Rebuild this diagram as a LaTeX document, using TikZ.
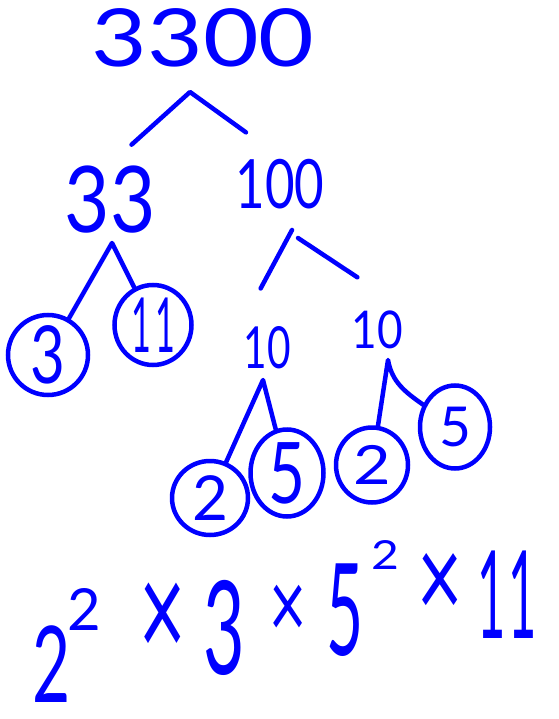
\documentclass[tikz,border=0pt]{standalone}
\usepackage{fontspec}
\setmainfont{Lato}
\usetikzlibrary{shapes.geometric}
\definecolor{ink}{RGB}{0,0,255}
\newcommand\fsz[1]{\fontsize{#1}{#1}\selectfont}
\newcommand\squeeze[2]{\scalebox{#1}[1]{#2}}
\newcommand\tall[2]{\scalebox{1}[#1]{#2}}
\tikzset{
  num/.style={text=ink, inner sep=2pt},
  leaf/.style={ellipse, draw=ink, line width=4.5pt, inner sep=-20pt, text=ink},
  branch/.style={draw=ink, line width=4.5pt, line cap=round, line join=round}
}
\begin{document}
\begin{tikzpicture}[x=1pt,y=-1pt]
  \useasboundingbox (0,0) rectangle (558,719);
  \node[num, font=\fsz{80}] (n3300) at (203,38) {\squeeze{1.2}{3300}};
  \node[num, font=\fsz{92}] (n33) at (110,200) {\squeeze{0.85}{33}};
  \node[num, font=\fsz{68}] (n100) at (280,184) {\squeeze{0.75}{100}};
  \node[num, font=\fsz{58}] (t10a) at (267,348) {\squeeze{0.7}{10}};
  \node[num, font=\fsz{52}] (t10b) at (377,330) {\squeeze{0.85}{10}};
  \node[leaf, minimum width=80, minimum height=80, font=\fsz{80}] (c3) at (48,355) {\squeeze{0.75}{3}};
  \node[leaf, minimum width=77, minimum height=80, font=\fsz{76}] (c11) at (153,325) {\squeeze{0.45}{1}\kern4pt\squeeze{0.45}{1}};
  \node[leaf, minimum width=76, minimum height=74, font=\fsz{62}] (c2a) at (210,498) {2};
  \node[leaf, minimum width=73, minimum height=87, font=\fsz{85}] (c5a) at (287,473) {\squeeze{0.75}{5}};
  \node[leaf, minimum width=72, minimum height=75, font=\fsz{54}] (c2b) at (372,465) {\squeeze{1.2}{2}};
  \node[leaf, minimum width=70, minimum height=83, font=\fsz{55}] (c5b) at (455,427) {5};
  \coordinate (a0) at (190,92);
  \coordinate (a1) at (112,243);
  \coordinate (a2l) at (292,230);
  \coordinate (a2r) at (298,238);
  \coordinate (a3) at (263,380);
  \coordinate (a4) at (388,360);
  \draw[branch, shorten <=29pt, shorten >=42pt] (n33.north) -- (a0) -- (n100.north);
  \draw[branch] (c3) -- (a1) -- (c11);
  \draw[branch, shorten >=41pt] (a2l) -- (t10a.north west);
  \draw[branch, shorten >=57pt] (a2r) -- (t10b.north east);
  \draw[branch] (c2a) -- (a3) -- (c5a);
  \draw[branch] (c2b) -- (a4) to[out=-80,in=145] (c5b);
  \node[num, font=\fsz{106}] (e2) at (52,664) {\squeeze{0.62}{2}};
  \node[num, font=\fsz{58}] (s2a) at (84,609) {2};
  \node[num, font=\fsz{80}] (x1) at (163,621) {\tall{1.7}{×}};
  \node[num, font=\fsz{130}] (e3) at (224,628) {\squeeze{0.55}{3}};
  \node[num, font=\fsz{64}] (x2) at (288,612) {\tall{1.5}{×}};
  \node[num, font=\fsz{128}] (e5) at (345,610) {\squeeze{0.5}{5}};
  \node[num, font=\fsz{40}] (s2b) at (385,555) {\squeeze{1.2}{2}};
  \node[num, font=\fsz{78}] (x3) at (440,586) {\tall{1.5}{×}};
  \node[num, font=\fsz{122}] (e11) at (507,595) {\squeeze{0.4}{1}\kern2pt\squeeze{0.4}{1}};
\end{tikzpicture}
\end{document}
